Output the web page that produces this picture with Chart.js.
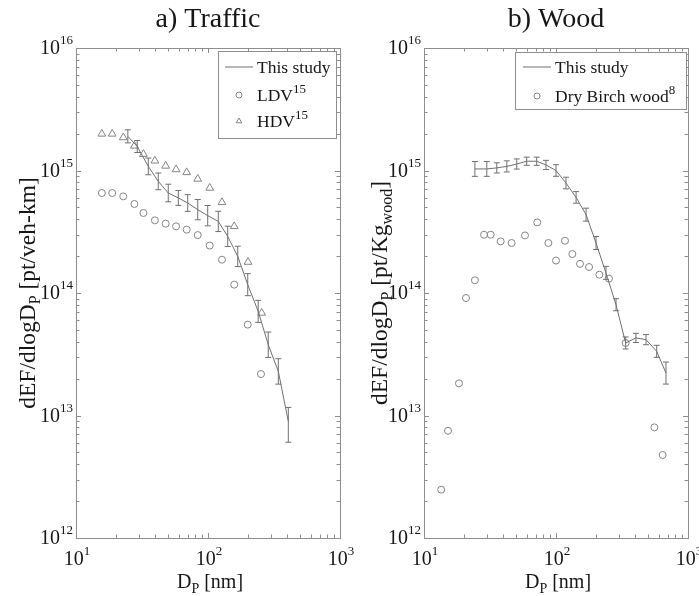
<!DOCTYPE html>
<html><head><meta charset="utf-8">
<script src="https://cdn.jsdelivr.net/npm/chart.js@4/dist/chart.umd.min.js"></script>
<style>
html,body{margin:0;padding:0;background:#fff;}
#wrap{position:relative;width:699px;height:596px;overflow:hidden;background:#fff;}
canvas{position:absolute;top:0;}
</style></head><body>
<div id="wrap">
<canvas id="c1" width="370" height="596" style="left:0"></canvas>
<canvas id="c2" width="349" height="596" style="left:350px"></canvas>
</div>
<script>
// ---------------- data ----------------
const trafficSizes = [24.7, 29.1, 35.3, 42.0, 50.0, 59.6, 70.2, 83.6, 99.5, 119.7, 141, 168, 200, 240, 286, 341, 406];
const trafficStudy = [1.90e15, 1.57e15, 1.08e15, 8.15e14, 6.55e14, 5.97e14, 5.43e14, 4.79e14, 4.28e14, 3.84e14, 2.90e14, 1.99e14, 1.17e14, 7.08e13, 3.78e13, 2.29e13, 8.95e12];
const trafficErrUp = [1.13, 1.12, 1.17, 1.17, 1.18, 1.15, 1.17, 1.21, 1.21, 1.21, 1.21, 1.21, 1.23, 1.23, 1.27, 1.27, 1.30];
const trafficErrDn = [1.13, 1.12, 1.17, 1.17, 1.18, 1.15, 1.17, 1.21, 1.21, 1.21, 1.21, 1.21, 1.23, 1.23, 1.27, 1.27, 1.48];

const ldvSizes = [15.7, 18.8, 22.8, 27.7, 32.4, 39.6, 47.8, 57.3, 69.0, 83.6, 103, 127.6, 158, 200, 252];
const ldvValues = [6.55e14, 6.55e14, 6.15e14, 5.33e14, 4.5e14, 3.92e14, 3.68e14, 3.50e14, 3.29e14, 2.97e14, 2.44e14, 1.87e14, 1.17e14, 5.52e13, 2.18e13];

const hdvSizes = [15.7, 18.8, 22.8, 27.7, 32.4, 39.6, 47.8, 57.3, 69.0, 83.6, 103, 127.6, 158, 201, 255];
const hdvValues = [1.99e15, 1.99e15, 1.86e15, 1.59e15, 1.36e15, 1.20e15, 1.09e15, 1.02e15, 9.65e14, 8.53e14, 7.2e14, 5.5e14, 3.5e14, 1.79e14, 6.87e13];

const woodSizes = [24.3, 29.9, 35.6, 42.4, 50.4, 60, 71.4, 84, 100, 119, 142, 169, 201, 239, 285, 337, 403, 481, 579, 681];
const woodStudy = [1.03e15, 1.03e15, 1.05e15, 1.08e15, 1.13e15, 1.19e15, 1.19e15, 1.11e15, 1.0e15, 7.9e14, 6.03e14, 4.36e14, 2.56e14, 1.46e14, 8.02e13, 3.91e13, 4.3e13, 4.16e13, 3.34e13, 2.22e13];
const woodErr = [1.15, 1.15, 1.10, 1.11, 1.10, 1.08, 1.08, 1.09, 1.115, 1.115, 1.115, 1.13, 1.13, 1.13, 1.12, 1.12, 1.09, 1.10, 1.12, 1.23];

const birchSizes = [13.5, 15.2, 18.4, 20.8, 24.3, 28.5, 32.0, 38.1, 46.1, 58.2, 72.1, 87.5, 100, 117, 133, 152, 178, 213, 252, 337, 556, 643];
const birchValues = [2.48e12, 7.5e12, 1.83e13, 9.1e13, 1.27e14, 2.99e14, 2.99e14, 2.64e14, 2.56e14, 2.95e14, 3.77e14, 2.56e14, 1.84e14, 2.67e14, 2.08e14, 1.73e14, 1.63e14, 1.41e14, 1.31e14, 3.91e13, 8.0e12, 4.76e12];

const xTickValues = [10, 100, 1000];
const xTickExps = ['1', '2', '3'];
const yTickValues = [1e12, 1e13, 1e14, 1e15, 1e16];
const yTickExps = ['12', '13', '14', '15', '16'];

// ---------------- styling ----------------
const SERIF = '"Liberation Serif","Times New Roman","DejaVu Serif",serif';
const LINE = '#707070', MARK = '#858585', FRAME = '#8e8e8e', TXT = '#161616';

function segWidth(ctx, segs, base) {
  let w = 0;
  for (const s of segs) { ctx.font = (s.size || base) + 'px ' + SERIF; w += ctx.measureText(s.t).width; }
  return w;
}
function drawRich(ctx, segs, x, y, align, base) {
  const w = segWidth(ctx, segs, base);
  let cx = align === 'center' ? x - w / 2 : align === 'right' ? x - w : x;
  ctx.textAlign = 'left'; ctx.textBaseline = 'alphabetic'; ctx.fillStyle = TXT;
  for (const s of segs) {
    ctx.font = (s.size || base) + 'px ' + SERIF;
    ctx.fillText(s.t, cx, y + (s.dy || 0));
    cx += ctx.measureText(s.t).width;
  }
}
function drawMarker(ctx, type, x, y, r) {
  ctx.save(); ctx.strokeStyle = MARK; ctx.lineWidth = 1; ctx.beginPath();
  if (type === 'circle') { ctx.arc(x, y, r, 0, Math.PI * 2); ctx.stroke(); }
  else if (type === 'triangle') {
    ctx.moveTo(x, y - r); ctx.lineTo(x + r * 0.95, y + r * 0.6); ctx.lineTo(x - r * 0.95, y + r * 0.6); ctx.closePath(); ctx.stroke();
  } else if (type === 'line') {
    ctx.strokeStyle = LINE; ctx.moveTo(x - 14, y); ctx.lineTo(x + 14, y); ctx.stroke();
  }
  ctx.restore();
}

const decoPlugin = {
  id: 'deco',
  beforeDatasetsDraw(chart, args, o) {
    const ctx = chart.ctx, a = chart.chartArea, xs = chart.scales.x, ys = chart.scales.y;
    ctx.save();
    ctx.strokeStyle = FRAME; ctx.lineWidth = 1;
    ctx.strokeRect(Math.round(a.left) + 0.5, Math.round(a.top) + 0.5, Math.round(a.right - a.left), Math.round(a.bottom - a.top));
    ctx.beginPath();
    for (let n = 1; n <= 2; n++) for (let k = 1; k <= 9; k++) {
      const v = k * Math.pow(10, n); if (v <= 10) continue;
      const px = Math.round(xs.getPixelForValue(v)) + 0.5, len = k === 1 ? 5 : 3.5;
      ctx.moveTo(px, a.bottom); ctx.lineTo(px, a.bottom - len);
      ctx.moveTo(px, a.top); ctx.lineTo(px, a.top + len);
    }
    for (let n = 12; n <= 15; n++) for (let k = 1; k <= 9; k++) {
      const v = k * Math.pow(10, n); if (v <= 1e12) continue;
      const py = Math.round(ys.getPixelForValue(v)) + 0.5, len = k === 1 ? 5 : 3.5;
      ctx.moveTo(a.left, py); ctx.lineTo(a.left + len, py);
      ctx.moveTo(a.right, py); ctx.lineTo(a.right - len, py);
    }
    ctx.stroke();
    // tick labels
    xTickValues.forEach((v, i) => {
      const px = xs.getPixelForValue(v);
      drawRich(ctx, [{t: '10'}, {t: xTickExps[i], size: 13, dy: -10}], px + 1, a.bottom + 27, 'center', 20);
    });
    yTickValues.forEach((v, i) => {
      const py = ys.getPixelForValue(v);
      drawRich(ctx, [{t: '10'}, {t: yTickExps[i], size: 13, dy: -10}], a.left - 3, py + 6, 'right', 20);
    });
    // axis titles
    drawRich(ctx, [{t: 'D'}, {t: 'P', size: 14, dy: 5}, {t: ' [nm]'}], (a.left + a.right) / 2 + 2, 588, 'center', 20);
    ctx.save();
    ctx.translate(o.yTitleX, (a.top + a.bottom) / 2);
    ctx.rotate(-Math.PI / 2);
    drawRich(ctx, o.yTitle, 0, 0, 'center', 23.5);
    ctx.restore();
    // chart title
    drawRich(ctx, [{t: o.title}], (a.left + a.right) / 2, 27, 'center', 28);
    ctx.restore();
  },
  afterDatasetsDraw(chart, args, o) {
    const ctx = chart.ctx, xs = chart.scales.x, ys = chart.scales.y;
    ctx.save();
    ctx.strokeStyle = LINE; ctx.lineWidth = 1; ctx.beginPath();
    o.err.sizes.forEach((d, i) => {
      const px = xs.getPixelForValue(d);
      const v = o.err.values[i];
      const yTop = ys.getPixelForValue(v * o.err.up[i]);
      const yBot = ys.getPixelForValue(v / o.err.dn[i]);
      ctx.moveTo(px, yTop); ctx.lineTo(px, yBot);
      ctx.moveTo(px - 3, yTop); ctx.lineTo(px + 3, yTop);
      ctx.moveTo(px - 3, yBot); ctx.lineTo(px + 3, yBot);
    });
    ctx.stroke();
    // legend
    const L = o.legend;
    ctx.fillStyle = '#fff'; ctx.fillRect(L.x, L.y, L.w, L.h);
    ctx.strokeStyle = FRAME; ctx.strokeRect(L.x + 0.5, L.y + 0.5, L.w, L.h);
    L.items.forEach(it => {
      drawMarker(ctx, it.type, L.mx, it.y, 3);
      drawRich(ctx, it.label, L.tx, it.y + 6, 'left', 17.5);
    });
    ctx.restore();
  }
};

function pts(xsArr, ysArr) { return xsArr.map((x, i) => ({x: x, y: ysArr[i]})); }

function makeChart(id, datasets, deco, padding) {
  return new Chart(document.getElementById(id), {
    type: 'scatter',
    data: {datasets: datasets},
    options: {
      responsive: false, animation: false, devicePixelRatio: 1,
      layout: {padding: padding},
      plugins: {legend: {display: false}, tooltip: {enabled: false}, title: {display: false}, deco: deco},
      scales: {
        x: {type: 'logarithmic', min: 10, max: 1000, display: false},
        y: {type: 'logarithmic', min: 1e12, max: 1e16, display: false}
      }
    },
    plugins: [decoPlugin]
  });
}

const lineDs = (x, y) => ({data: pts(x, y), showLine: true, borderColor: LINE, borderWidth: 1, pointRadius: 0, fill: false, tension: 0});
const markDs = (x, y, style, r) => ({data: pts(x, y), showLine: false, pointStyle: style, pointRadius: r, borderColor: MARK, backgroundColor: 'rgba(0,0,0,0)', pointBorderWidth: 1, borderWidth: 1});

makeChart('c1', [
  lineDs(trafficSizes, trafficStudy),
  markDs(ldvSizes, ldvValues, 'circle', 3.5),
  markDs(hdvSizes, hdvValues, 'triangle', 4.5)
], {
  title: 'a) Traffic',
  yTitleX: 35,
  yTitle: [{t: 'dEF/dlogD'}, {t: 'P', size: 16, dy: 5}, {t: ' [pt/veh-km]'}],
  err: {sizes: trafficSizes, values: trafficStudy, up: trafficErrUp, dn: trafficErrDn},
  legend: {x: 218, y: 51, w: 118, h: 87, mx: 239, tx: 257, items: [
    {type: 'line', y: 67, label: [{t: 'This study'}]},
    {type: 'circle', y: 95, label: [{t: 'LDV'}, {t: '15', size: 13, dy: -8}]},
    {type: 'triangle', y: 121, label: [{t: 'HDV'}, {t: '15', size: 13, dy: -8}]}
  ]}
}, {left: 76, right: 30, top: 48, bottom: 58});

makeChart('c2', [
  lineDs(woodSizes, woodStudy),
  markDs(birchSizes, birchValues, 'circle', 3.5)
], {
  title: 'b) Wood',
  yTitleX: 37,
  yTitle: [{t: 'dEF/dlogD'}, {t: 'P', size: 16, dy: 5}, {t: ' [pt/Kg'}, {t: 'wood', size: 16, dy: 5}, {t: ']'}],
  err: {sizes: woodSizes, values: woodStudy, up: woodErr, dn: woodErr},
  legend: {x: 165, y: 52, w: 171, h: 57, mx: 187, tx: 205, items: [
    {type: 'line', y: 67, label: [{t: 'This study'}]},
    {type: 'circle', y: 96, label: [{t: 'Dry Birch wood'}, {t: '8', size: 13, dy: -8}]}
  ]}
}, {left: 74, right: 11, top: 48, bottom: 58});
</script>
</body></html>
